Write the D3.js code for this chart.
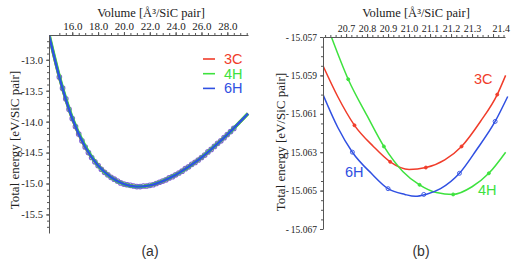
<!DOCTYPE html>
<html>
<head>
<meta charset="utf-8">
<script src="https://cdn.jsdelivr.net/npm/d3@7"></script>
<style>
  body { margin: 0; background: #fff; }
  svg { display: block; }
  .tick text { font-family: "Liberation Serif", "Times New Roman", serif; fill: #222; }
  .domain, .tick line { stroke: #555; }
</style>
</head>
<body>
<script>
// panel (a): fitted E(V) curves, same volume grid for all polytypes
const curveVolumes = [14.2, 15, 16, 17, 18, 19, 20, 21, 22, 23, 24, 25, 26, 27, 28, 29, 29.6]
const curve3C = [-12.60, -13.28, -13.95, -14.41, -14.71, -14.90, -15.01, -15.05, -15.03, -14.96, -14.86, -14.73, -14.58, -14.40, -14.21, -14.00, -13.87]
const curve4H = [-12.59, -13.27, -13.94, -14.40, -14.71, -14.90, -15.01, -15.05, -15.03, -14.96, -14.86, -14.73, -14.58, -14.40, -14.21, -14.00, -13.87]
const curve6H = [-12.60, -13.28, -13.95, -14.41, -14.71, -14.90, -15.01, -15.05, -15.03, -14.96, -14.86, -14.73, -14.58, -14.40, -14.21, -14.00, -13.87]

// panel (a): calculated points (purple circles)
const pointVolumes = [15.00, 15.25, 15.50, 15.75, 16.00, 16.25, 16.50, 16.75, 17.00, 17.25, 17.50, 17.75,
  18.00, 18.25, 18.50, 18.75, 19.00, 19.25, 19.50, 19.75, 20.00, 20.25, 20.50, 20.75, 21.00, 21.25,
  21.50, 21.75, 22.00, 22.25, 22.50, 22.75, 23.00, 23.25, 23.50, 23.75, 24.00, 24.25, 24.50, 24.75,
  25.00, 25.25, 25.50, 25.75, 26.00, 26.25, 26.50, 26.75, 27.00, 27.25, 27.50, 27.75, 28.00, 28.25, 28.50]
const pointEnergies = [-13.28, -13.46, -13.63, -13.80, -13.95, -14.08, -14.20, -14.31, -14.41, -14.50, -14.58, -14.65,
  -14.71, -14.77, -14.82, -14.86, -14.90, -14.93, -14.96, -14.99, -15.01, -15.02, -15.03, -15.04, -15.05, -15.05,
  -15.04, -15.04, -15.03, -15.02, -15.00, -14.98, -14.96, -14.94, -14.91, -14.89, -14.86, -14.83, -14.80, -14.76,
  -14.73, -14.69, -14.66, -14.62, -14.58, -14.54, -14.49, -14.45, -14.40, -14.35, -14.31, -14.26, -14.21, -14.16, -14.11]

// panel (b): zoom around the minimum
const zoomV3C = [20.59, 20.66, 20.74, 20.83, 20.91, 21.00, 21.08, 21.17, 21.25, 21.34, 21.42, 21.46]
const zoomE3C = [-15.0585, -15.0601, -15.0616, -15.0627, -15.0635, -15.0639, -15.0638, -15.0634, -15.0627, -15.0614, -15.0600, -15.0590]
const zoomV4H = [20.63, 20.71, 20.80, 20.88, 20.97, 21.05, 21.13, 21.21, 21.30, 21.38, 21.46]
const zoomE4H = [-15.0570, -15.0592, -15.0611, -15.0627, -15.0640, -15.0647, -15.0651, -15.0652, -15.0648, -15.0641, -15.0630]
const zoomV6H = [20.59, 20.66, 20.73, 20.82, 20.90, 20.98, 21.03, 21.08, 21.15, 21.24, 21.32, 21.41, 21.47]
const zoomE6H = [-15.0600, -15.0617, -15.0630, -15.0641, -15.0649, -15.0652, -15.0653, -15.0652, -15.0649, -15.0641, -15.0629, -15.0614, -15.0601]

const markV3C = [20.74, 20.91, 21.08, 21.25, 21.42]
const markE3C = [-15.0616, -15.0635, -15.0638, -15.0627, -15.0600]
const markV4H = [20.71, 20.88, 21.05, 21.21, 21.38]
const markE4H = [-15.0592, -15.0627, -15.0647, -15.0652, -15.0641]
const markV6H = [20.73, 20.90, 21.07, 21.24, 21.41]
const markE6H = [-15.0630, -15.0649, -15.0652, -15.0641, -15.0614]

const xTicksA = [16, 18, 20, 22, 24, 26, 28]
const yTicksA = [-13.0, -13.5, -14.0, -14.5, -15.0, -15.5]
const xTicksB = [20.7, 20.8, 20.9, 21.0, 21.1, 21.2, 21.3, 21.4]
const yTicksB = [-15.057, -15.059, -15.061, -15.063, -15.065, -15.067]

const names = ['3C', '4H', '6H']
const colors = { '3C': '#f03c2a', '4H': '#3ee23e', '6H': '#3050e2' }

const zip = (xs, ys) => xs.map((x, i) => [x, ys[i]])

const svg = d3.select('body').append('svg')
  .attr('width', 513)
  .attr('height', 263)

const serif = '"Liberation Serif", "Times New Roman", serif'
const sans = '"Liberation Sans", Arial, sans-serif'

function drawAxes (g, x, y, o) {
  // minor ticks first so the major ones sit on top
  g.append('g')
    .attr('transform', `translate(0,${o.top})`)
    .call(d3.axisTop(x).tickValues(o.xMinor).tickSize(2).tickFormat(''))
    .select('.domain').remove()
  g.append('g')
    .attr('transform', `translate(${o.left},0)`)
    .call(d3.axisLeft(y).tickValues(o.yMinor).tickSize(2).tickFormat(''))
    .select('.domain').remove()

  const xa = g.append('g')
    .attr('transform', `translate(0,${o.top})`)
    .call(d3.axisTop(x).tickValues(o.xTicks).tickSizeInner(3).tickSizeOuter(0).tickPadding(2).tickFormat(o.xFormat))
  xa.selectAll('text').attr('font-size', o.xFont)
  const ya = g.append('g')
    .attr('transform', `translate(${o.left},0)`)
    .call(d3.axisLeft(y).tickValues(o.yTicks).tickSizeInner(3).tickSizeOuter(0).tickPadding(3).tickFormat(o.yFormat))
  ya.selectAll('text').attr('font-size', o.yFont)
  return xa
}

// ---------- panel (a) ----------
const xA = d3.scaleLinear().domain([14.2, 29.6]).range([49, 248])
const yA = d3.scaleLinear().domain([-15.8, -12.6]).range([233, 35])
const gA = svg.append('g')

svg.append('clipPath').attr('id', 'clipA')
  .append('rect').attr('x', 49).attr('y', 35).attr('width', 205).attr('height', 198)

const lineA = d3.line().x(d => xA(d[0])).y(d => yA(d[1])).curve(d3.curveMonotoneX)
const seriesA = { '3C': curve3C, '4H': curve4H, '6H': curve6H }
const widthsA = { '3C': 3, '4H': 3.4, '6H': 2.4 }
const plotA = gA.append('g').attr('clip-path', 'url(#clipA)')

plotA.selectAll('circle')
  .data(zip(pointVolumes, pointEnergies))
  .enter()
  .append('circle')
  .attr('cx', d => xA(d[0]))
  .attr('cy', d => yA(d[1]))
  .attr('r', 2.3)
  .attr('fill', 'none')
  .attr('stroke', '#7d5fd8')
  .attr('stroke-width', 1.1)

names.forEach(function (n) {
  plotA.append('path')
    .datum(zip(curveVolumes, seriesA[n]))
    .attr('d', lineA)
    .attr('fill', 'none')
    .attr('stroke', colors[n])
    .attr('stroke-width', widthsA[n])
})

drawAxes(gA, xA, yA, {
  top: 35,
  left: 49,
  xTicks: xTicksA,
  yTicks: yTicksA,
  xMinor: d3.range(15, 29.6, 0.5),
  yMinor: d3.range(-15.7, -12.6, 0.1),
  xFormat: d3.format('.1f'),
  yFormat: d => d3.format('.1f')(d).replace('−', '-'),
  xFont: 11,
  yFont: 10.5
})

gA.append('text')
  .attr('x', 151).attr('y', 17)
  .attr('text-anchor', 'middle')
  .attr('font-family', serif).attr('font-size', 12.5)
  .attr('fill', '#222')
  .text('Volume [Å³/SiC pair]')

gA.append('text')
  .attr('transform', 'translate(19,140) rotate(-90)')
  .attr('text-anchor', 'middle')
  .attr('font-family', serif).attr('font-size', 13)
  .attr('fill', '#222')
  .text('Total energy [eV/SiC pair]')

// legend
names.forEach(function (n, i) {
  const ly = 59 + i * 14.7
  gA.append('line')
    .attr('x1', 203).attr('x2', 215)
    .attr('y1', ly).attr('y2', ly)
    .attr('stroke', colors[n]).attr('stroke-width', 1.6)
  gA.append('text')
    .attr('x', 224).attr('y', ly + 5)
    .attr('font-family', sans).attr('font-size', 14.5)
    .attr('fill', colors[n])
    .text(n)
})

gA.append('text')
  .attr('x', 150).attr('y', 256)
  .attr('text-anchor', 'middle')
  .attr('font-family', sans).attr('font-size', 14)
  .attr('fill', '#333')
  .text('(a)')

// ---------- panel (b) ----------
const xB = d3.scaleLinear().domain([20.59, 21.457]).range([323, 505])
const yB = d3.scaleLinear().domain([-15.067, -15.057]).range([229, 37])
const gB = svg.append('g')

svg.append('clipPath').attr('id', 'clipB')
  .append('rect').attr('x', 323).attr('y', 37).attr('width', 190).attr('height', 192)

const lineB = d3.line().x(d => xB(d[0])).y(d => yB(d[1])).curve(d3.curveMonotoneX)
const plotB = gB.append('g').attr('clip-path', 'url(#clipB)')
const seriesB = {
  '3C': [zoomV3C, zoomE3C, markV3C, markE3C],
  '4H': [zoomV4H, zoomE4H, markV4H, markE4H],
  '6H': [zoomV6H, zoomE6H, markV6H, markE6H]
}

names.forEach(function (n) {
  const s = seriesB[n]
  plotB.append('path')
    .datum(zip(s[0], s[1]))
    .attr('d', lineB)
    .attr('fill', 'none')
    .attr('stroke', colors[n])
    .attr('stroke-width', 1.5)
  plotB.selectAll('circle.m' + n)
    .data(zip(s[2], s[3]))
    .enter()
    .append('circle')
    .attr('class', 'm' + n)
    .attr('cx', d => xB(d[0]))
    .attr('cy', d => yB(d[1]))
    .attr('r', n === '6H' ? 2 : 1.5)
    .attr('fill', n === '6H' ? 'none' : colors[n])
    .attr('stroke', colors[n])
    .attr('stroke-width', 0.9)
})

const xaB = drawAxes(gB, xB, yB, {
  top: 37,
  left: 323,
  xTicks: xTicksB,
  yTicks: yTicksB,
  xMinor: d3.range(20.6, 21.46, 0.025),
  yMinor: d3.range(-15.0665, -15.057, 0.0005),
  xFormat: d3.format('.1f'),
  yFormat: d => '-\u2009' + d3.format('.3f')(-d),
  xFont: 10,
  yFont: 9.5
})
// last label sits to the right of its tick
xaB.selectAll('.tick text').filter(d => d === 21.4).attr('text-anchor', 'start').attr('dx', -1)

gB.append('text')
  .attr('x', 416).attr('y', 17)
  .attr('text-anchor', 'middle')
  .attr('font-family', serif).attr('font-size', 12.5)
  .attr('fill', '#222')
  .text('Volume [Å³/SiC pair]')

gB.append('text')
  .attr('transform', 'translate(285,142) rotate(-90)')
  .attr('text-anchor', 'middle')
  .attr('font-family', serif).attr('font-size', 13)
  .attr('fill', '#222')
  .text('Total energy [eV/SiC pair]')

const labelsB = [['3C', 474, 84], ['6H', 345, 177], ['4H', 478, 195]]
labelsB.forEach(function (l) {
  gB.append('text')
    .attr('x', l[1]).attr('y', l[2])
    .attr('font-family', sans).attr('font-size', 14.5)
    .attr('fill', colors[l[0]])
    .text(l[0])
})

gB.append('text')
  .attr('x', 421).attr('y', 256)
  .attr('text-anchor', 'middle')
  .attr('font-family', sans).attr('font-size', 14)
  .attr('fill', '#333')
  .text('(b)')
</script>
</body>
</html>
